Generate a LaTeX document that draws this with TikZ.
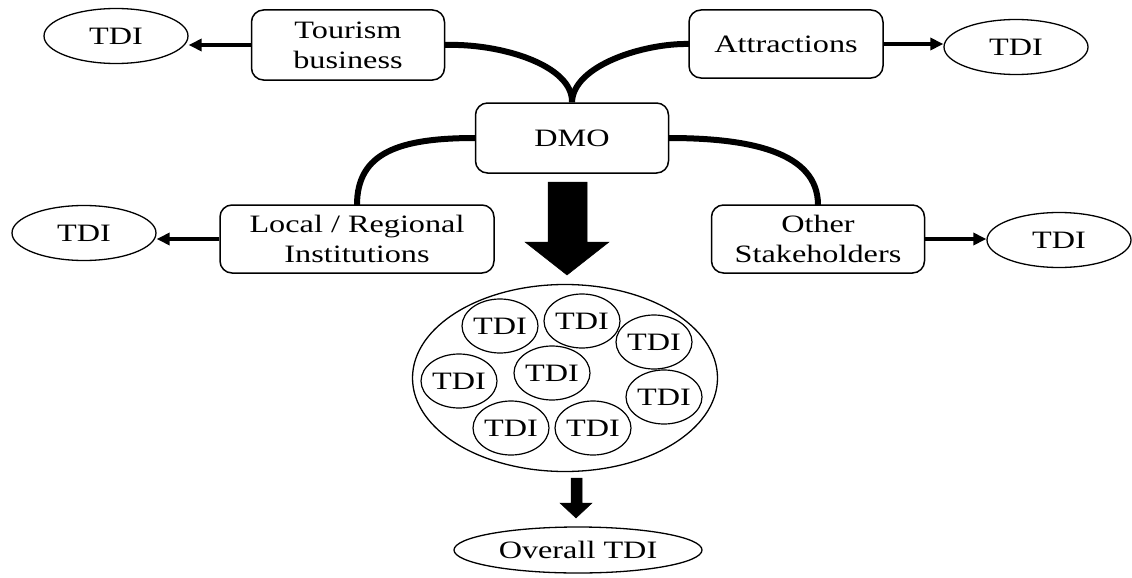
\documentclass[tikz,border=0pt]{standalone}
\usepackage{fontspec}
\setmainfont{Liberation Serif}[FakeStretch=1.29]
\usetikzlibrary{shapes.geometric,arrows.meta}

\begin{document}
\begin{tikzpicture}[x=1pt,y=-1pt,
  lbl/.style={font=\fontsize{25}{30}\selectfont},
  box/.style={lbl, draw, line width=1.5pt, rounded corners=12pt, inner sep=0pt, align=center},
  tdi/.style={lbl, draw, ellipse, line width=1.3pt, minimum width=144pt, minimum height=55pt, inner sep=0pt},
  part/.style={lbl, draw, ellipse, line width=1.2pt, minimum width=73pt, minimum height=54pt, inner sep=0pt},
  link/.style={line width=6pt},
  arr/.style={line width=4pt, -{Triangle[length=13pt,width=12pt]}},
  bigarrow/.style={fill=black, draw=black, line width=0.5pt, line join=miter},
]
\useasboundingbox (0,0) rectangle (1132,578);

% stakeholder boxes
\node[box, minimum width=193pt, minimum height=70pt] (tb) at (348,45) {Tourism\\business};
\node[box, minimum width=194pt, minimum height=68pt] (at) at (786,44) {Attractions};
\node[box, minimum width=193pt, minimum height=70pt] (dmo) at (572,138) {DMO};
\node[box, minimum width=274pt, minimum height=68pt] (lr) at (357,239) {Local / Regional\\Institutions};
\node[box, minimum width=213pt, minimum height=68pt] (os) at (818,239) {Other\\Stakeholders};

% individual TDI results
\node[tdi] (t1) at (116,36) {TDI};
\node[tdi] (t2) at (1016,47) {TDI};
\node[tdi] (t3) at (84,233) {TDI};
\node[tdi] (t4) at (1059,240) {TDI};

\draw[arr] (tb.west) -- (tb.west -| t1.east);
\draw[arr] (at.east) -- (at.east -| t2.west);
\draw[arr] (lr.west) -- (lr.west -| t3.east);
\draw[arr] (os.east) -- (os.east -| t4.west);

% links between DMO and stakeholders
\coordinate (dtop) at (dmo.north);
\draw[link] ([xshift=-0.75pt]tb.east) .. controls (500,43) and (573,65) .. (dtop);
\draw[link] ([xshift=0.75pt]at.west) .. controls (645,43) and (573,65) .. (dtop);
\draw[link] ([xshift=0.75pt]dmo.west) .. controls (400,138) and (357,152) .. ([yshift=-0.75pt]lr.north);
\draw[link] ([xshift=-0.75pt]dmo.east) .. controls (750,138) and (818,152) .. ([yshift=-0.75pt]os.north);

% aggregation arrow
\draw[bigarrow] (548,182) -- (587,182) -- (587,242) -- (609,242) -- (567,275) -- (525,242) -- (548,242) -- cycle;

% collection of TDIs
\node[draw, ellipse, line width=1.3pt, minimum width=305pt, minimum height=187pt] (pool) at (565,378) {};
\node[part] (p1) at (500,326) {TDI};
\node[part] (p2) at (582,321) {TDI};
\node[part] (p3) at (654,342) {TDI};
\node[part] (p4) at (459,381) {TDI};
\node[part] (p5) at (552,373) {TDI};
\node[part] (p6) at (664,397) {TDI};
\node[part] (p7) at (511,428) {TDI};
\node[part] (p8) at (593,428) {TDI};

% final arrow and overall result
\draw[bigarrow] (571,478) -- (582,478) -- (582,503) -- (592,503) -- (576,518) -- (560,503) -- (571,503) -- cycle;
\node[lbl, draw, ellipse, line width=1.3pt, minimum width=248pt, minimum height=46pt, inner sep=0pt] (all) at (578,550) {Overall TDI};
\end{tikzpicture}
\end{document}
